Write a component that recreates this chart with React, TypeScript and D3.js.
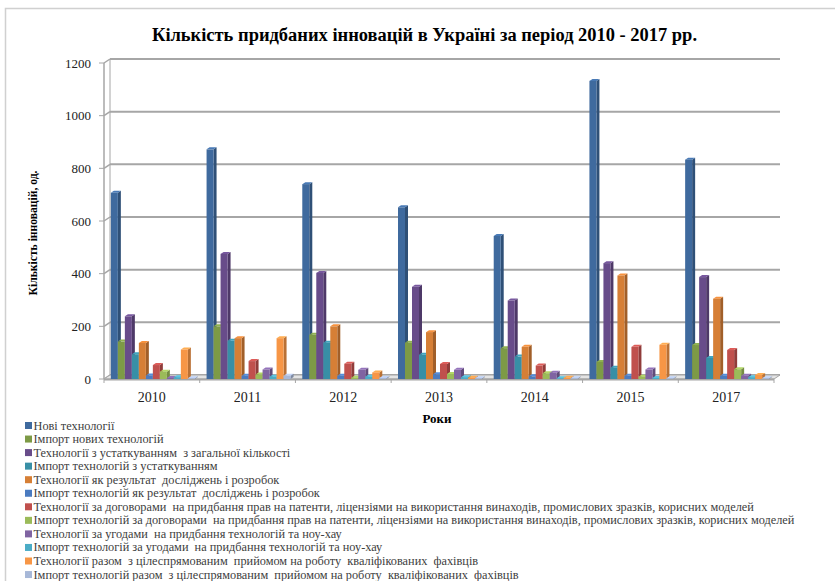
import React from 'react';
import * as d3 from 'd3';

const categories = ['2010', '2011', '2012', '2013', '2014', '2015', '2017'];

const seriesNames = [
  'Нові технології',
  'Імпорт нових технологій',
  'Технології з устаткуванням  з загальної кількості',
  'Імпорт технологій з устаткуванням',
  'Технології як результат  досліджень і розробок',
  'Імпорт технологій як результат  досліджень і розробок',
  'Технології за договорами  на придбання прав на патенти, ліцензіями на використання винаходів, промислових зразків, корисних моделей',
  'Імпорт технологій за договорами  на придбання прав на патенти, ліцензіями на використання винаходів, промислових зразків, корисних моделей',
  'Технології за угодами  на придбання технологій та ноу-хау',
  'Імпорт технологій за угодами  на придбання технологій та ноу-хау',
  'Технології разом  з цілеспрямованим  прийомом на роботу  кваліфікованих  фахівців',
  'Імпорт технологій разом  з цілеспрямованим  прийомом на роботу  кваліфікованих  фахівців',
];

const s1 = [707, 872, 740, 652, 543, 1132, 833];
const s2 = [142, 200, 168, 138, 117, 65, 129];
const s3 = [238, 475, 403, 350, 298, 440, 387];
const s4 = [94, 145, 138, 92, 85, 43, 80];
const s5 = [137, 155, 200, 178, 122, 393, 305];
const s6 = [13, 12, 12, 18, 10, 12, 12];
const s7 = [53, 68, 58, 57, 51, 122, 110];
const s8 = [28, 17, 5, 19, 22, 9, 37];
const s9 = [4, 36, 35, 35, 24, 36, 12];
const s10 = [7, 9, 9, 7, 3, 4, 7];
const s11 = [112, 155, 25, 5, 5, 130, 15];
const s12 = [3, 12, 4, 3, 3, 3, 3];

const seriesValues = [s1, s2, s3, s4, s5, s6, s7, s8, s9, s10, s11, s12];

const colors = [
  '#3F6A9E', '#7D9A46', '#684C8A', '#388FA6', '#D67F36', '#4A7BC0',
  '#C0504D', '#9BBB59', '#8064A2', '#4BACC6', '#F79646', '#A7B8D8',
];

const yTicks = [0, 200, 400, 600, 800, 1000, 1200];

const title = 'Кількість придбаних інновацій в Україні за період 2010 - 2017 рр.';
const yTitle = 'Кількість інновацій, од.';
const xTitle = 'Роки';

export default function App() {
  const W = 835, H = 581;
  const x0 = 104, x1 = 774, yBase = 379, yTop = 63;
  const ddx = 6, ddy = -4;
  const barW = 7, bdx = 3, bdy = -2;

  const y = d3.scaleLinear().domain([0, 1200]).range([yBase, yTop]);
  const x = d3.scaleBand<string>().domain(categories).range([x0, x1]).padding(0);
  const inner = d3.scaleBand<number>().domain(d3.range(seriesNames.length)).range([0, barW * seriesNames.length]);

  const serif = '"Liberation Serif", "Times New Roman", serif';
  const grid = '#A6A6A6';

  return (
    <svg width={W} height={H} style={{ position: 'absolute', left: 0, top: 0, display: 'block' }}>
      <rect x={0} y={0} width={W} height={H} fill="#fff" />
      <rect x={5.5} y={8.5} width={W + 10} height={H + 10} fill="none" stroke="#D0D0D0" strokeWidth={1.5} />
      <text x={424.5} y={41} textAnchor="middle" fontFamily={serif} fontWeight="bold" fontSize={18} textLength={545} lengthAdjust="spacingAndGlyphs" fill="#000">{title}</text>

      {/* back wall gridlines */}
      {yTicks.map(t => (
        <g key={'g' + t}>
          <line x1={x0 + ddx} x2={x1 + ddx} y1={y(t) + ddy} y2={y(t) + ddy} stroke={grid} strokeWidth={2} />
          <line x1={x0} x2={x0 + ddx} y1={y(t)} y2={y(t) + ddy} stroke={grid} strokeWidth={1.5} />
          <line x1={x0 - 5} x2={x0} y1={y(t)} y2={y(t)} stroke={grid} strokeWidth={1} />
          <text x={91} y={y(t) + 4.5} textAnchor="end" fontFamily={serif} fontSize={13} fill="#222">{t}</text>
        </g>
      ))}
      <line x1={x0 + ddx} x2={x0 + ddx} y1={y(0) + ddy} y2={y(1200) + ddy} stroke={grid} strokeWidth={1} />
      <line x1={x0} x2={x0} y1={y(0)} y2={y(1200)} stroke={grid} strokeWidth={1.5} />

      {/* floor */}
      <polygon
        points={`${x0},${yBase} ${x1},${yBase} ${x1 + ddx},${yBase + ddy} ${x0 + ddx},${yBase + ddy}`}
        fill="#E4E4E4" stroke={grid} strokeWidth={1} />
      <line x1={x0} x2={x1} y1={yBase + 0.5} y2={yBase + 0.5} stroke={grid} strokeWidth={2} />
      {categories.map(c => (
        <line key={'t' + c} x1={x(c)!} x2={x(c)!} y1={yBase} y2={yBase + 4} stroke={grid} strokeWidth={1} />
      ))}
      <line x1={x1} x2={x1} y1={yBase} y2={yBase + 4} stroke={grid} strokeWidth={1} />

      {/* bars */}
      {categories.map((c, ci) => {
        const cx = x(c)! + x.bandwidth() / 2;
        const start = cx - inner.range()[1] / 2 + 1;
        return (
          <g key={'b' + c}>
            {seriesValues.map((vals, si) => {
              const v = vals[ci];
              const bx = start + inner(si)!;
              const by = y(v);
              const col = colors[si];
              const dark = d3.color(col)!.darker(0.8).formatHex();
              const light = d3.color(col)!.brighter(0.4).formatHex();
              return (
                <g key={si}>
                  <polygon points={`${bx + barW},${by} ${bx + barW + bdx},${by + bdy} ${bx + barW + bdx},${yBase + bdy} ${bx + barW},${yBase}`} fill={dark} />
                  <polygon points={`${bx},${by} ${bx + bdx},${by + bdy} ${bx + barW + bdx},${by + bdy} ${bx + barW},${by}`} fill={light} />
                  <rect x={bx} y={by} width={barW} height={yBase - by} fill={col} />
                </g>
              );
            })}
          </g>
        );
      })}

      {categories.map(c => (
        <text key={'l' + c} x={x(c)! + x.bandwidth() / 2} y={402} textAnchor="middle" fontFamily={serif} fontSize={14} fill="#222">{c}</text>
      ))}
      <text x={437} y={423} textAnchor="middle" fontFamily={serif} fontWeight="bold" fontSize={13} fill="#000">{xTitle}</text>
      <text transform={`translate(37,${233}) rotate(-90)`} textAnchor="middle" fontFamily={serif} fontWeight="bold" fontSize={13} textLength={125} lengthAdjust="spacingAndGlyphs" fill="#000">{yTitle}</text>

      {/* legend */}
      {seriesNames.map((n, i) => {
        const cy = 425.5 + i * 13.55;
        return (
          <g key={'lg' + i}>
            <rect x={25} y={cy - 3.5} width={7} height={7} fill={colors[i]} />
            <text x={33.5} y={cy + 4} fontFamily={serif} fontSize={12.3} fill="#404040" style={{ whiteSpace: 'pre' }}>{n}</text>
          </g>
        );
      })}
    </svg>
  );
}
